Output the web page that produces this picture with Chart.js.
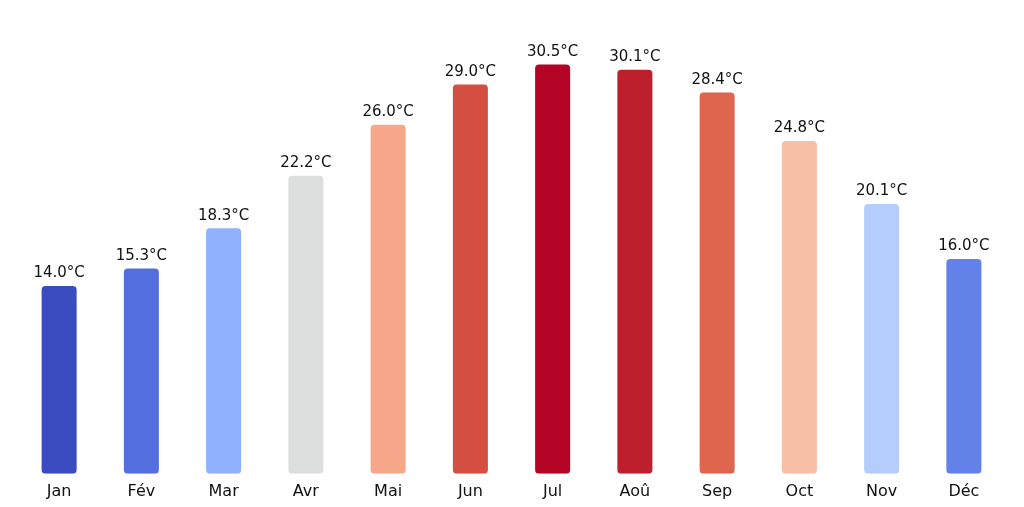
<!DOCTYPE html>
<html>
<head>
<meta charset="utf-8">
<script src="https://cdn.jsdelivr.net/npm/chart.js@4"></script>
<style>
  html, body { margin: 0; padding: 0; background: #fff; }
  #wrap { width: 1024px; height: 507px; }
</style>
</head>
<body>
<div id="wrap"><canvas id="temps"></canvas></div>
<script>
const months = ['Jan', 'Fév', 'Mar', 'Avr', 'Mai', 'Jun', 'Jul', 'Aoû', 'Sep', 'Oct', 'Nov', 'Déc'];
const temperatures = [14.0, 15.3, 18.3, 22.2, 26.0, 29.0, 30.5, 30.1, 28.4, 24.8, 20.1, 16.0];
const barColors = ['#3b4cc0', '#536edd', '#8fb1fe', '#dcdddd', '#f7a789', '#d44e41',
                   '#b40426', '#be1f2d', '#e0654f', '#f6bfa6', '#b5cdfa', '#6282ea'];

// écrit la valeur au-dessus de chaque barre
const valueLabels = {
    id: 'valueLabels',
    afterDatasetsDraw(chart) {
        const ctx = chart.ctx;
        const meta = chart.getDatasetMeta(0);
        ctx.save();
        ctx.font = '15px "DejaVu Sans"';
        ctx.fillStyle = '#111';
        ctx.textAlign = 'center';
        ctx.textBaseline = 'bottom';
        meta.data.forEach((bar, i) => {
            ctx.fillText(temperatures[i].toFixed(1) + '°C', bar.x, bar.y - 5);
        });
        ctx.restore();
    }
};

new Chart(document.getElementById('temps'), {
    type: 'bar',
    data: {
        labels: months,
        datasets: [{
            data: temperatures,
            backgroundColor: barColors,
            borderRadius: 4,
            borderSkipped: false,
            barPercentage: 0.426,
            categoryPercentage: 1
        }]
    },
    options: {
        responsive: true,
        maintainAspectRatio: false,
        animation: false,
        layout: { padding: { left: 18, right: 19, top: 0, bottom: 6 } },
        plugins: { legend: { display: false }, tooltip: { enabled: false } },
        scales: {
            x: {
                grid: { display: false },
                border: { display: false },
                ticks: { color: '#111', font: { family: 'DejaVu Sans', size: 16 }, padding: 0 }
            },
            y: {
                display: false,
                min: 0,
                max: 35.3
            }
        }
    },
    plugins: [valueLabels]
});
</script>
</body>
</html>
